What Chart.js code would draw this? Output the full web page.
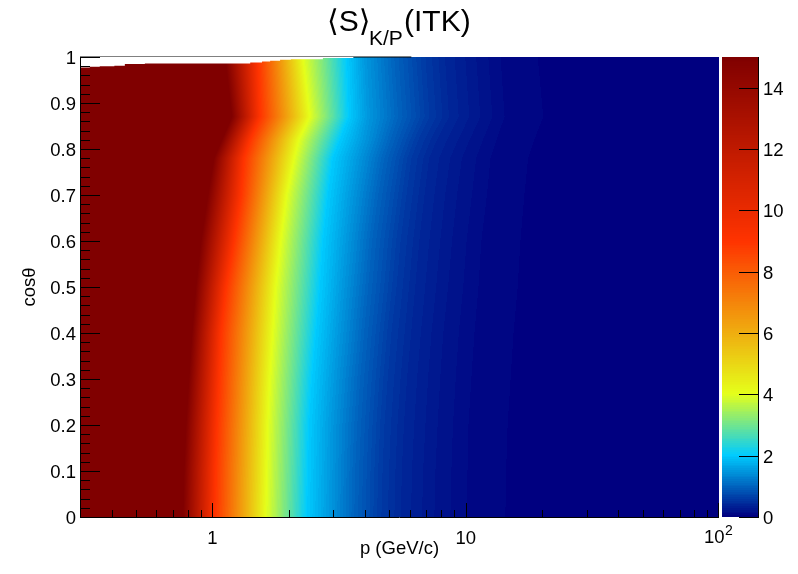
<!DOCTYPE html>
<html>
<head>
<meta charset="utf-8">
<title>Separation K/P (ITK)</title>
<script src="https://cdn.jsdelivr.net/npm/chart.js@4/dist/chart.umd.min.js"></script>
<style>
    body { margin: 0; background: #ffffff; }
    canvas { display: block; }
</style>
</head>
<body>
<canvas id="sepChart" width="798" height="574"></canvas>
<script>
const cosRows = [0, 0.1, 0.2, 0.3, 0.4, 0.5, 0.6, 0.7, 0.78, 0.82, 0.87, 1];

// Separation levels, and the momentum (GeV/c) where each level is reached in every row
const levels = [15, 9, 4, 2, 1.5, 1, 0.6, 0.4, 0.25, 0.118, 0.059, 0];
const pS15 = [0.765, 0.772, 0.786, 0.807, 0.830, 0.860, 0.901, 0.960, 1.014, 1.09, 1.194, 1.121];
const pS9 = [1.023, 1.028, 1.042, 1.061, 1.080, 1.131, 1.216, 1.296, 1.332, 1.407, 1.541, 1.513];
const pS4 = [1.628, 1.643, 1.658, 1.688, 1.734, 1.783, 1.865, 1.969, 2.11, 2.199, 2.428, 2.281];
const pS2 = [2.363, 2.385, 2.407, 2.473, 2.567, 2.66, 2.736, 2.86, 2.99, 3.19, 3.46, 3.40];
const pS1p5 = [2.913, 2.94, 2.965, 3.05, 3.16, 3.28, 3.40, 3.56, 3.76, 3.97, 4.12, 4.01];
const pS1 = [3.63, 3.66, 3.73, 3.83, 3.97, 4.12, 4.27, 4.51, 4.77, 5.05, 5.41, 5.22];
const pS0p6 = [4.59, 4.64, 4.72, 4.86, 5.03, 5.27, 5.47, 5.77, 6.04, 6.43, 7.11, 6.85];
const pS0p4 = [5.61, 5.66, 5.77, 5.93, 6.16, 6.39, 6.63, 6.95, 7.25, 7.78, 8.69, 8.37];
const pS0p25 = [7.25, 7.32, 7.48, 7.65, 7.87, 8.23, 8.54, 8.93, 9.35, 10.05, 11.1, 10.7];
const pS0p118 = [10.05, 10.14, 10.23, 10.5, 10.8, 11.2, 11.5, 12.1, 12.5, 13.2, 14.2, 13.7];
const pS0p059 = [14.3, 14.4, 14.6, 15.0, 15.4, 16.0, 16.4, 17.0, 17.6, 18.6, 20.2, 19.2];
const pS0 = [33, 33, 33, 34, 34, 35, 35, 36, 36, 37, 38, 38];
const contours = [pS15, pS9, pS4, pS2, pS1p5, pS1, pS0p6, pS0p4, pS0p25, pS0p118, pS0p059, pS0];

// Upper limit of the filled region (acceptance edge)
const edgeP = [0.3, 0.328, 0.359, 0.41, 0.451, 0.541, 1.41, 1.57, 1.69, 1.85, 2.04, 2.73, 3.6, 6.1, 100];
const edgeCos = [0.973, 0.977, 0.979, 0.980, 0.981, 0.985, 0.986, 0.988, 0.990, 0.992, 0.994, 0.995, 0.998, 1, 1];

// Tick labels (the 10^2 label is drawn with a raised exponent)
const xTickValues = [1, 10, 100];
const xTickLabels = ['1', '10', ''];
const xMinorTicks = [0.4, 0.5, 0.6, 0.7, 0.8, 0.9, 2, 3, 4, 5, 6, 7, 8, 9, 20, 30, 40, 50, 60, 70, 80, 90];
const yTickValues = [0, 0.1, 0.2, 0.3, 0.4, 0.5, 0.6, 0.7, 0.8, 0.9, 1];
const yTickLabels = ['0', '0.1', '0.2', '0.3', '0.4', '0.5', '0.6', '0.7', '0.8', '0.9', '1'];
const zTickValues = [0, 2, 4, 6, 8, 10, 12, 14];

// Colour palette of the z axis
const paletteStops = [0, 2, 4, 9, 15];
const paletteColors = [[0, 0, 128], [0, 204, 255], [229, 255, 26], [255, 51, 0], [128, 0, 0]];
const paletteBands = 255;

const FONT = "'Liberation Sans', Arimo, Helvetica, Arial, sans-serif";

function paletteColor(value) {
    let i = 0;
    while (i < paletteStops.length - 2 && value > paletteStops[i + 1]) i++;
    const t = (value - paletteStops[i]) / (paletteStops[i + 1] - paletteStops[i]);
    const rgb = paletteColors[i].map((c, k) => Math.round(c + (paletteColors[i + 1][k] - c) * t));
    return `rgb(${rgb[0]},${rgb[1]},${rgb[2]})`;
}

// The map uses a fixed number of colours, like the source palette
const bandColors = [];
for (let i = 0; i < paletteBands; i++) {
    bandColors.push(paletteColor(i * 15 / (paletteBands - 1)));
}

function bandOf(value) {
    return Math.max(0, Math.min(paletteBands - 1, Math.floor(value / 15 * paletteBands)));
}

// Paints the map one pixel row at a time, contours placed by the x and y scales
const heatMapPlugin = {
    id: 'heatMap',
    beforeDraw(chart) {
        // Vertical labels sit a little low compared to their tick in the source
        ['y', 'z'].forEach(id => {
            chart.scales[id].getLabelItems().forEach(item => {
                item.options.translation[1] += 2;
            });
        });
    },
    beforeDatasetsDraw(chart) {
        const { ctx, chartArea, scales } = chart;
        const left = Math.round(chartArea.left);
        const right = Math.round(chartArea.right);
        const rowPixels = contours.map(line => line.map(p => scales.x.getPixelForValue(p)));
        const last = levels.length - 1;

        for (let y = Math.round(chartArea.top); y < Math.round(chartArea.bottom); y++) {
            const cos = scales.y.getValueForPixel(y + 0.5);
            let j = 0;
            while (j < cosRows.length - 2 && cos > cosRows[j + 1]) j++;
            const t = Math.min(1, Math.max(0, (cos - cosRows[j]) / (cosRows[j + 1] - cosRows[j])));
            const xs = rowPixels.map(row => row[j] + (row[j + 1] - row[j]) * t);

            let k = 0;
            let runStart = left;
            let runBand = -1;
            for (let x = left; x <= right; x++) {
                const px = x + 0.5;
                while (k <= last && px > xs[k]) k++;
                let value = 15;
                if (k > last) {
                    value = 0;
                } else if (k > 0) {
                    value = levels[k - 1] + (levels[k] - levels[k - 1]) * (px - xs[k - 1]) / (xs[k] - xs[k - 1]);
                }
                const band = bandOf(value);
                if (band !== runBand || x === right) {
                    if (runBand >= 0) {
                        ctx.fillStyle = bandColors[runBand];
                        ctx.fillRect(runStart, y, x - runStart, 1);
                    }
                    runStart = x;
                    runBand = band;
                }
            }
        }
    }
};

// ROOT style frame: ticks point inwards, colour bar sits right of the map
const framePlugin = {
    id: 'frame',
    afterDatasetsDraw(chart) {
        const { ctx, chartArea, scales } = chart;
        const { left, right, top, bottom } = chartArea;
        const crisp = v => Math.round(v) + 0.5;

        function line(x1, y1, x2, y2) {
            ctx.beginPath();
            ctx.moveTo(x1, y1);
            ctx.lineTo(x2, y2);
            ctx.stroke();
        }

        ctx.save();
        ctx.strokeStyle = '#000000';
        ctx.lineWidth = 1;

        // Axis lines
        line(left + 0.5, top, left + 0.5, bottom + 1);
        line(left, bottom + 0.5, right, bottom + 0.5);

        // x ticks
        xTickValues.forEach(v => {
            const x = Math.min(crisp(scales.x.getPixelForValue(v)), right - 0.5);
            line(x, bottom, x, bottom - 14);
        });
        xMinorTicks.forEach(v => {
            const x = crisp(scales.x.getPixelForValue(v));
            line(x, bottom, x, bottom - 7);
        });

        // y ticks, minor ones every 0.02
        for (let i = 0; i <= 50; i++) {
            const y = crisp(scales.y.getPixelForValue(i * 0.02));
            line(left, y, left + (i % 5 === 0 ? 20 : 10), y);
        }

        // Colour bar
        const barLeft = 722;
        const barRight = 758;
        const zBottom = Math.round(scales.z.getPixelForValue(0));
        const zTop = Math.round(scales.z.getPixelForValue(15));
        for (let y = zTop; y < zBottom; y++) {
            ctx.fillStyle = bandColors[bandOf(scales.z.getValueForPixel(y + 0.5))];
            ctx.fillRect(barLeft, y, barRight - barLeft, 1);
        }
        line(barRight + 0.5, zTop, barRight + 0.5, zBottom + 1);
        zTickValues.forEach(v => {
            const y = crisp(scales.z.getPixelForValue(v));
            line(barRight - 19, y, barRight + 1, y);
        });

        // Title with its subscript
        ctx.fillStyle = '#000000';
        ctx.textAlign = 'left';
        ctx.textBaseline = 'alphabetic';
        ctx.font = `30px ${FONT}, 'DejaVu Sans'`;
        ctx.fillText('⟨S⟩', 327, 31);
        ctx.fillText('(ITK)', 404, 31);
        ctx.font = `21px ${FONT}`;
        ctx.fillText('K/P', 369, 45);

        // 10^2 label
        ctx.font = `18.5px ${FONT}`;
        ctx.fillText('10', 704, 543);
        ctx.font = `14px ${FONT}`;
        ctx.fillText('2', 725, 535);
        ctx.restore();
    }
};

const chart = new Chart(document.getElementById('sepChart'), {
    type: 'line',
    data: {
        datasets: [
            {
                // Blank region above the acceptance edge
                data: edgeP.map((p, i) => ({ x: p, y: edgeCos[i] })),
                stepped: 'after',
                fill: 'end',
                backgroundColor: '#ffffff',
                borderWidth: 0,
                pointRadius: 0
            },
            {
                // Top frame line, only visible over the blank part
                data: [{ x: 0.3, y: 1 }, { x: 6.1, y: 1 }],
                borderColor: '#000000',
                borderWidth: 1,
                pointRadius: 0,
                clip: false
            }
        ]
    },
    plugins: [heatMapPlugin, framePlugin],
    options: {
        responsive: false,
        animation: false,
        layout: { padding: { top: 57, left: 0, right: 0, bottom: 0 } },
        plugins: {
            legend: { display: false },
            title: { display: false },
            tooltip: { enabled: false }
        },
        scales: {
            x: {
                type: 'logarithmic',
                min: 0.3,
                max: 100,
                border: { display: false },
                grid: { display: false, drawTicks: false },
                afterFit: scale => { scale.height = 57; },
                afterBuildTicks: scale => { scale.ticks = xTickValues.map(value => ({ value })); },
                ticks: {
                    autoSkip: false,
                    maxRotation: 0,
                    padding: 11,
                    color: '#000000',
                    font: { family: FONT, size: 18.5 },
                    callback: (value) => xTickLabels[xTickValues.indexOf(value)]
                },
                title: {
                    display: true,
                    text: 'p (GeV/c)',
                    color: '#000000',
                    font: { family: FONT, size: 18.5 },
                    padding: { top: 0, bottom: 14 }
                }
            },
            y: {
                type: 'linear',
                min: 0,
                max: 1,
                border: { display: false },
                grid: { display: false, drawTicks: false },
                afterFit: scale => { scale.width = 80; },
                afterBuildTicks: scale => { scale.ticks = yTickValues.map(value => ({ value })); },
                ticks: {
                    autoSkip: false,
                    padding: 4,
                    color: '#000000',
                    font: { family: FONT, size: 18.5 },
                    callback: (value) => yTickLabels[yTickValues.indexOf(value)]
                },
                title: {
                    display: true,
                    text: 'cosθ',
                    color: '#000000',
                    font: { family: FONT, size: 18.5 },
                    padding: { top: 19, bottom: 0 }
                }
            },
            z: {
                type: 'linear',
                position: 'right',
                min: 0,
                max: 15,
                border: { display: false },
                grid: { display: false, drawTicks: false },
                afterFit: scale => { scale.width = 79; },
                afterBuildTicks: scale => { scale.ticks = zTickValues.map(value => ({ value })); },
                ticks: {
                    autoSkip: false,
                    padding: 44,
                    color: '#000000',
                    font: { family: FONT, size: 18.5 },
                    callback: (value) => String(value)
                }
            }
        }
    }
});
</script>
</body>
</html>
